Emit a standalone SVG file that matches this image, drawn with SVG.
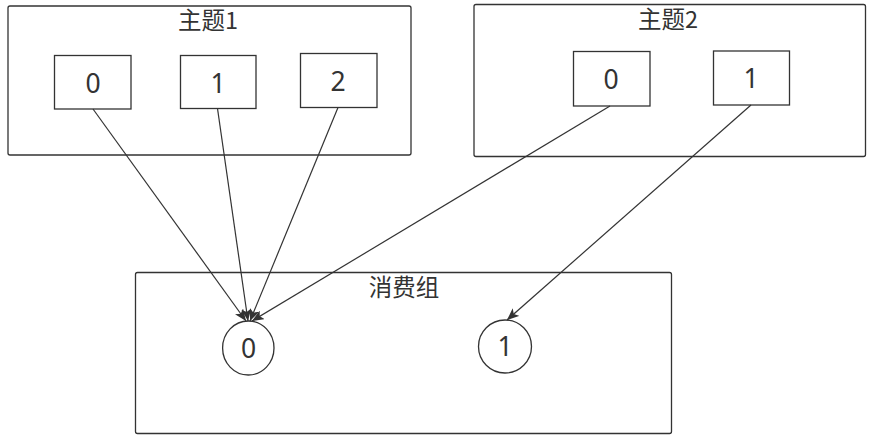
<svg xmlns="http://www.w3.org/2000/svg" width="869" height="439" viewBox="0 0 869 439">
  <style>
    .frame { fill: #ffffff; stroke: #333333; stroke-width: 1.3; }
    .box { fill: #ffffff; stroke: #333333; stroke-width: 1.3; }
    .title { font-family: "Noto Sans CJK SC", "Noto Sans", sans-serif; font-size: 23.5px; fill: #333333; text-anchor: middle; }
    .num { font-family: "Noto Sans", "Open Sans", sans-serif; font-size: 26.5px; fill: #333333; text-anchor: middle; }
    .edge { fill: none; stroke: #333333; stroke-width: 1.2; marker-end: url(#arrow); }
  </style>
  <defs>
    <marker id="arrow" markerUnits="userSpaceOnUse" markerWidth="12" markerHeight="10" viewBox="0 0 12 10" refX="12" refY="5" orient="auto">
      <path d="M0,0 L12,5 L0,10 L3,5 Z" fill="#333333"/>
    </marker>
  </defs>
  <rect width="869" height="439" fill="#ffffff"/>

  <g id="topic1">
    <rect class="frame" x="8" y="6" width="403" height="149" rx="2"/>
    <text class="title" x="208" y="29">主题1</text>
    <g id="t1p0"><rect class="box" x="54.5" y="55.5" width="76.5" height="53.5"/><text class="num" x="93" y="92.5">0</text></g>
    <g id="t1p1"><rect class="box" x="180.5" y="55.5" width="75.5" height="53"/><text class="num" x="218" y="92.5">1</text></g>
    <g id="t1p2"><rect class="box" x="300.5" y="53.5" width="76.5" height="54"/><text class="num" x="338" y="90.5">2</text></g>
  </g>

  <g id="topic2">
    <rect class="frame" x="474" y="4.5" width="391.5" height="152" rx="2"/>
    <text class="title" x="668" y="27.5">主题2</text>
    <g id="t2p0"><rect class="box" x="573.5" y="51.5" width="76.5" height="54.5"/><text class="num" x="611" y="88.5">0</text></g>
    <g id="t2p1"><rect class="box" x="713.5" y="51" width="76" height="54"/><text class="num" x="751" y="87.5">1</text></g>
  </g>

  <g id="group">
    <rect class="frame" x="135.5" y="272.5" width="536" height="161" rx="2"/>
    <text class="title" x="404" y="296">消费组</text>
    <g id="c0"><ellipse class="box" cx="248.3" cy="348" rx="25.7" ry="27"/><text class="num" x="248.5" y="357.5">0</text></g>
    <g id="c1"><ellipse class="box" cx="505" cy="346.5" rx="26.5" ry="26.5"/><text class="num" x="505" y="356">1</text></g>
  </g>

  <g id="connectors">
    <line class="edge" x1="93" y1="109" x2="246" y2="321"/>
    <line class="edge" x1="217.5" y1="108.5" x2="248" y2="321"/>
    <line class="edge" x1="338" y1="107.5" x2="250" y2="321"/>
    <line class="edge" x1="610" y1="106" x2="252" y2="321"/>
    <line class="edge" x1="751" y1="105" x2="507" y2="320"/>
  </g>
</svg>
